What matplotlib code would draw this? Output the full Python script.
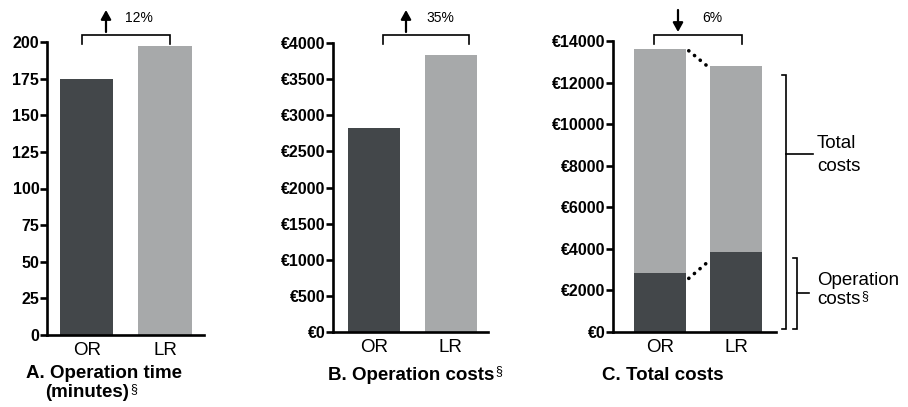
import matplotlib
matplotlib.use("Agg")
import matplotlib.pyplot as plt
from matplotlib.lines import Line2D
from matplotlib.patches import FancyArrowPatch
import numpy as np

plt.rcParams['font.family'] = ['Liberation Sans', 'DejaVu Sans']

# ---- data ----
categories = ["OR", "LR"]
op_time = [175, 197]            # minutes
op_costs = [2830, 3840]         # euro
total_costs = [13630, 12800]    # euro
changes = ["12%", "35%", "6%"]
change_dir = ["up", "up", "down"]
ticks_a = list(range(0, 201, 25))
ticks_b = list(range(0, 4001, 500))
ticks_c = list(range(0, 14001, 2000))
titles = ["A. Operation time", "(minutes)", "B. Operation costs", "C. Total costs"]

DARK = "#43474a"
LIGHT = "#a7a9aa"
W, H = 908, 407

fig = plt.figure(figsize=(W / 100, H / 100), dpi=100)


def P(x, y):
    return (x / W, 1 - y / H)


def add_axes(x0, x1, ytop, ybot):
    return fig.add_axes([x0 / W, 1 - ybot / H, (x1 - x0) / W, (ybot - ytop) / H])


def style(ax, ticks, fmt, xlim):
    for s in ["top", "right"]:
        ax.spines[s].set_visible(False)
    for s in ["left", "bottom"]:
        ax.spines[s].set_linewidth(1.9)
        ax.spines[s].set_color("black")
    ax.set_ylim(ticks[0], ticks[-1])
    ax.set_yticks(ticks, [fmt(t) for t in ticks])
    ax.tick_params(axis="y", length=5, width=1.9, pad=0.5, labelsize=11.5)
    ax.set_xticks(range(len(categories)), categories)
    ax.tick_params(axis="x", length=0, pad=5, labelsize=13.5)
    for lab in ax.get_yticklabels():
        lab.set_fontweight("bold")
    ax.set_xlim(*xlim)


x = np.arange(len(categories))
bw = 0.68

# Panel A
axA = add_axes(47, 204, 42, 335)
axA.bar(x, op_time, width=bw, color=[DARK, LIGHT])
style(axA, ticks_a, lambda t: f"{t}", (-0.51, 1.5))

# Panel B
axB = add_axes(333, 488, 43, 332)
axB.bar(x, op_costs, width=bw, color=[DARK, LIGHT])
style(axB, ticks_b, lambda t: f"€{t}", (-0.54, 1.49))

# Panel C
axC = add_axes(613, 776, 41, 332)
axC.bar(x, op_costs, width=bw, color=DARK)
axC.bar(x, np.array(total_costs) - np.array(op_costs), bottom=op_costs,
        width=bw, color=LIGHT)
style(axC, ticks_c, lambda t: f"€{t}", (-0.61, 1.52))
# dotted connectors
xa, xb = x[0] + bw / 2 + 0.04, x[1] - bw / 2 - 0.04
axC.plot([xa, xb], [total_costs[0] - 100, total_costs[1]], color="black", lw=2.6,
         linestyle=(0, (0.05, 2.0)), dash_capstyle="round", clip_on=False)
axC.plot([xa, xb], [op_costs[0] - 250, op_costs[1] - 500], color="black", lw=2.6,
         linestyle=(0, (0.05, 2.0)), dash_capstyle="round", clip_on=False)


def fline(xs, ys, lw=1.2):
    pts = [P(a, b) for a, b in zip(xs, ys)]
    fig.add_artist(Line2D([p[0] for p in pts], [p[1] for p in pts], color="black",
                          lw=lw, transform=fig.transFigure, solid_joinstyle="miter"))


# top brackets, arrows and percentages
brackets = [(82, 170, 106, 139), (383, 469, 406, 440), (654, 742, 678, 712)]
for (bx0, bx1, ax_, tx), lab, d in zip(brackets, changes, change_dir):
    fline([bx0, bx0, bx1, bx1], [44, 35, 35, 44])
    if d == "up":
        start, end = P(ax_, 32), P(ax_, 10)
    else:
        start, end = P(ax_, 10), P(ax_, 32)
    fig.add_artist(FancyArrowPatch(
        start, end, transform=fig.transFigure,
        arrowstyle="-|>,head_length=0.45,head_width=0.25",
        color="black", lw=1.6, mutation_scale=12, shrinkA=0, shrinkB=0))
    fig.text(*P(tx, 18), lab, fontsize=10, ha="center", va="center")

# right brackets in panel C
fline([782, 786, 786, 782], [75, 75, 329, 329])
fline([786, 813], [154, 154])
fig.text(*P(817, 148), "Total", fontsize=13.5, ha="left", va="baseline")
fig.text(*P(817, 171), "costs", fontsize=13.5, ha="left", va="baseline")
fline([793, 797, 797, 793], [258, 258, 329, 329])
fline([797, 809], [293, 293])
fig.text(*P(817, 285), "Operation", fontsize=13.5, ha="left", va="baseline")
t_c2 = fig.text(*P(817, 304), "costs", fontsize=13.5, ha="left", va="baseline")

# panel titles
fig.text(*P(104, 378), titles[0], fontsize=13.5, fontweight="bold",
         ha="center", va="baseline")
t_min = fig.text(*P(45, 397), titles[1], fontsize=13.5, fontweight="bold",
                 ha="left", va="baseline")
t_b = fig.text(*P(328, 380), titles[2], fontsize=13.5, fontweight="bold",
               ha="left", va="baseline")
fig.text(*P(663, 380), titles[3], fontsize=13.5, fontweight="bold",
         ha="center", va="baseline")

# section-sign superscripts (placed right after the words they follow)
fig.canvas.draw()
r = fig.canvas.get_renderer()
for t, ybase in [(t_min, 392), (t_b, 374), (t_c2, 299)]:
    bb = t.get_window_extent(r)
    xr = bb.x1 / W + 1.0 / W
    fig.text(xr, P(0, ybase)[1], "§", fontsize=9, ha="left", va="baseline")

fig.savefig("out.png", dpi=100)
